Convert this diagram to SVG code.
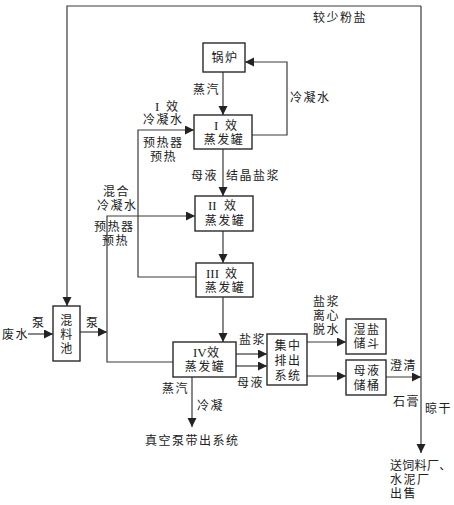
<svg xmlns="http://www.w3.org/2000/svg" width="454" height="505" viewBox="0 0 454 505">
<style>
text{font-family:"Liberation Serif","Noto Sans CJK SC",serif;font-size:12px;fill:#222;letter-spacing:1.5px}
.c{text-anchor:middle}
.r{font-size:13px;letter-spacing:0}
.box{fill:#fff;stroke:#2a2a2a;stroke-width:1.4}
.ln{fill:none;stroke:#3a3a3a;stroke-width:1.2}
.a{marker-end:url(#ah)}
</style>
<defs>
<marker id="ah" markerUnits="userSpaceOnUse" markerWidth="10" markerHeight="10" refX="9" refY="4.5" orient="auto">
<path d="M0,0 L9,4.5 L0,9 z" fill="#222"/>
</marker>
</defs>
<rect width="454" height="505" fill="#fff"/>
<g id="connectors">
<path class="ln a" d="M421,6 H67 V306"/>
<path class="ln a" d="M421,6 V453"/>
<path class="ln a" d="M223,72 V115"/>
<path class="ln a" d="M252,135 H287 V62 H245"/>
<path class="ln a" d="M223,149 V196"/>
<path class="ln a" d="M223,231 V263"/>
<path class="ln a" d="M223,297 V342"/>
<path class="ln a" d="M196,277 H138 V130 H194"/>
<path class="ln a" d="M173,362 H107 V216 H195"/>
<path class="ln a" d="M28,334 H53"/>
<path class="ln a" d="M80,332 H107"/>
<path class="ln a" d="M236,354 H267"/>
<path class="ln a" d="M236,366 H267"/>
<path class="ln a" d="M307,342 H346"/>
<path class="ln a" d="M307,376 H346"/>
<path class="ln a" d="M386,377 H421"/>
<path class="ln a" d="M192,377 V427"/>
</g>
<g id="labels">
<text x="313" y="22">较少粉盐</text>
<text x="193" y="94">蒸汽</text>
<text x="290" y="102">冷凝水</text>
<text class="r" x="155" y="111">I</text>
<text x="166" y="111">效</text>
<text x="143" y="124">冷凝水</text>
<text x="143" y="147">预热器</text>
<text x="150" y="161">预热</text>
<text x="191" y="180">母液</text>
<text x="226" y="180">结晶盐浆</text>
<text x="103" y="196">混合</text>
<text x="97" y="210">冷凝水</text>
<text x="94" y="231">预热器</text>
<text x="102" y="245">预热</text>
<text x="2" y="339">废水</text>
<text x="32" y="327">泵</text>
<text x="86" y="327">泵</text>
<text x="239" y="344">盐浆</text>
<text x="237" y="387">母液</text>
<text x="313" y="306">盐浆</text>
<text x="313" y="320">离心</text>
<text x="313" y="334">脱水</text>
<text x="390" y="370">澄清</text>
<text x="393" y="406">石膏</text>
<text x="425" y="413">晾干</text>
<text x="390" y="470" style="letter-spacing:0.3px">送饲料厂、</text>
<text x="390" y="484">水泥厂</text>
<text x="390" y="498">出售</text>
<text x="162" y="393">蒸汽</text>
<text x="197" y="410">冷凝</text>
<text x="145" y="445">真空泵带出系统</text>
</g>
<g id="boiler">
<rect class="box" x="203" y="43" width="42" height="29"/>
<text class="c" x="225" y="62">锅炉</text>
</g>
<g id="evap1">
<rect class="box" x="194" y="115" width="58" height="34"/>
<text class="r" x="214" y="130">I</text>
<text x="225" y="130">效</text>
<text class="c" x="224" y="144">蒸发罐</text>
</g>
<g id="evap2">
<rect class="box" x="195" y="196" width="58" height="35"/>
<text class="r" x="208" y="210">II</text>
<text x="224" y="210">效</text>
<text class="c" x="225" y="225">蒸发罐</text>
</g>
<g id="evap3">
<rect class="box" x="196" y="263" width="57" height="34"/>
<text class="r" x="206" y="278">III</text>
<text x="225" y="278">效</text>
<text class="c" x="225" y="292">蒸发罐</text>
</g>
<g id="evap4">
<rect class="box" x="173" y="342" width="63" height="35"/>
<text class="r" x="193" y="357">IV</text>
<text x="207" y="357">效</text>
<text class="c" x="205" y="371">蒸发罐</text>
</g>
<g id="mixpool">
<rect class="box" x="53" y="306" width="27" height="55"/>
<text class="c" x="67" y="325">混</text>
<text class="c" x="67" y="339">料</text>
<text class="c" x="67" y="353">池</text>
</g>
<g id="discharge">
<rect class="box" x="267" y="334" width="40" height="51"/>
<text class="c" x="288" y="350">集中</text>
<text class="c" x="288" y="365">排出</text>
<text class="c" x="288" y="380">系统</text>
</g>
<g id="wetsalt">
<rect class="box" x="346" y="319" width="40" height="35"/>
<text class="c" x="367" y="334">湿盐</text>
<text class="c" x="367" y="348">储斗</text>
</g>
<g id="liquor">
<rect class="box" x="346" y="360" width="40" height="35"/>
<text class="c" x="367" y="375">母液</text>
<text class="c" x="367" y="390">储桶</text>
</g>
</svg>
